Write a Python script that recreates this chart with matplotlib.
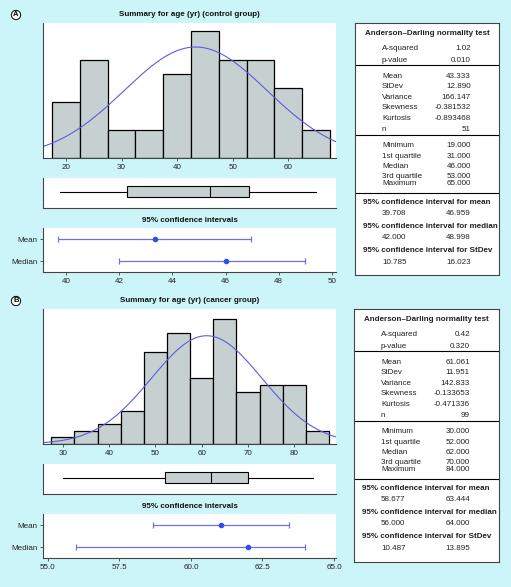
import numpy as np
import matplotlib.pyplot as plt

plt.rcParams['font.family'] = ['Liberation Sans', 'DejaVu Sans']
plt.rcParams['font.size'] = 5.8

# ---- data: control group (A) ----
bins_a = [20, 25, 30, 35, 40, 45, 50, 55, 60, 65]
counts_a = [4, 7, 2, 2, 6, 9, 7, 7, 5, 2]
mean_a, sd_a, n_a = 43.333, 12.890, 51
five_a = [19, 31, 46, 53, 65]          # min, q1, median, q3, max
ci_mean_a = [39.708, 46.959]
ci_median_a = [42.000, 48.998]
ad_a = [("A-squared", "1.02"), ("p-value", "0.010")]
desc_a = [("Mean", "43.333"), ("StDev", "12.890"), ("Variance", "166.147"),
          ("Skewness", "-0.381532"), ("Kurtosis", "-0.893468"), ("n", "51")]
quart_a = [("Minimum", "19.000"), ("1st quartile", "31.000"), ("Median", "46.000"),
           ("3rd quartile", "53.000"), ("Maximum", "65.000")]
ci_tab_a = [("mean", "39.708", "46.959"), ("median", "42.000", "48.998"),
            ("StDev", "10.785", "16.023")]

# ---- data: cancer group (B) ----
bins_b = [30, 35, 40, 45, 50, 55, 60, 65, 70, 75, 80, 85]
counts_b = [1, 2, 3, 5, 14, 17, 10, 19, 8, 9, 9, 2]
mean_b, sd_b, n_b = 61.061, 11.951, 99
five_b = [30, 52, 62, 70, 84]
ci_mean_b = [58.677, 63.444]
ci_median_b = [56.000, 64.000]
ad_b = [("A-squared", "0.42"), ("p-value", "0.320")]
desc_b = [("Mean", "61.061"), ("StDev", "11.951"), ("Variance", "142.833"),
          ("Skewness", "-0.133653"), ("Kurtosis", "-0.471336"), ("n", "99")]
quart_b = [("Minimum", "30.000"), ("1st quartile", "52.000"), ("Median", "62.000"),
           ("3rd quartile", "70.000"), ("Maximum", "84.000")]
ci_tab_b = [("mean", "58.677", "63.444"), ("median", "56.000", "64.000"),
            ("StDev", "10.487", "13.895")]

W, H = 511, 587
BG = '#CCF5FA'
GRAY = '#C7D0D0'
BLUE = '#5C5CE0'
CI_LINE = '#7070E4'
CI_DOT = '#2F4FE8'
SPINE = '#444444'


def px_axes(fig, x0, y0, x1, y1):
    return fig.add_axes([x0 / W, 1 - y1 / H, (x1 - x0) / W, (y1 - y0) / H])


def style(ax):
    ax.spines['top'].set_visible(False)
    ax.spines['right'].set_visible(False)
    for s in ('left', 'bottom'):
        ax.spines[s].set_color(SPINE)
        ax.spines[s].set_linewidth(0.8)
    ax.tick_params(length=2.2, width=0.6, color=SPINE, pad=2, labelcolor='#222222')


def panel(fig, letter, title, y0, centers, counts, mean, sd, n, xlim, xticks, ytop,
          five, ci_mean, ci_median, ci_xlim, ci_ticks, ci_fmt,
          ad, desc, quart, ci_tab, tbox):
    # letter + title
    fig.text(16 / W, 1 - (y0 - 8) / H, letter, ha='center', va='center', fontsize=5.5,
             fontweight='bold',
             bbox=dict(boxstyle='circle,pad=0.15', fc='white', ec='black', lw=0.7))
    fig.text(189.5 / W, 1 - (y0 - 8) / H, title, ha='center', va='center',
             fontweight='bold', color='#111111')

    # histogram with fitted normal curve
    ax = px_axes(fig, 43, y0, 336, y0 + 135)
    ax.bar(centers, counts, width=5, color=GRAY, edgecolor='black', linewidth=0.9)
    xs = np.linspace(xlim[0], xlim[1], 300)
    pdf = np.exp(-0.5 * ((xs - mean) / sd) ** 2) / (sd * np.sqrt(2 * np.pi))
    ax.plot(xs, n * 5 * pdf, color=BLUE, lw=0.8)
    ax.set_xlim(xlim)
    ax.set_ylim(0, ytop)
    ax.set_xticks(xticks)
    ax.set_yticks([])
    style(ax)

    # boxplot
    bx = px_axes(fig, 43, y0 + 155, 336, y0 + 185)
    stats = [dict(whislo=five[0], q1=five[1], med=five[2], q3=five[3], whishi=five[4], fliers=[])]
    bx.bxp(stats, positions=[0.54], widths=0.37, orientation='horizontal',
           patch_artist=True, showcaps=False,
           boxprops=dict(facecolor=GRAY, edgecolor='black', linewidth=0.8),
           medianprops=dict(color='black', linewidth=0.8),
           whiskerprops=dict(color='black', linewidth=0.8))
    bx.set_xlim(xlim)
    bx.set_ylim(0, 1)
    bx.set_xticks([])
    bx.set_yticks([])
    style(bx)

    # confidence intervals
    fig.text(189.5 / W, 1 - (y0 + 198) / H, '95% confidence intervals', ha='center',
             va='center', fontweight='bold', color='#111111')
    cx = px_axes(fig, 43, y0 + 205, 336, y0 + 249)
    pts = [mean, five[2]]
    los = [ci_mean[0], ci_median[0]]
    his = [ci_mean[1], ci_median[1]]
    for yv, p, lo, hi in zip([1, 0], pts, los, his):
        cx.errorbar([p], [yv], xerr=[[p - lo], [hi - p]], fmt='none', ecolor=CI_LINE,
                    elinewidth=0.9, capsize=2.5, capthick=0.9)
        cx.plot([p], [yv], 'o', ms=3, color=CI_DOT)
    cx.set_ylim(-0.5, 1.5)
    cx.set_yticks([1, 0])
    cx.set_yticklabels(['Mean', 'Median'])
    cx.set_xlim(ci_xlim)
    cx.set_xticks(ci_ticks)
    cx.set_xticklabels([ci_fmt.format(t) for t in ci_ticks])
    style(cx)

    # statistics table
    tx0, ty0, tx1, ty1 = tbox
    tw, th = tx1 - tx0, ty1 - ty0
    tax = px_axes(fig, tx0, ty0, tx1, ty1)
    tax.set_xlim(0, tw)
    tax.set_ylim(th, 0)
    tax.set_xticks([])
    tax.set_yticks([])
    for s in tax.spines.values():
        s.set_color(SPINE)
        s.set_linewidth(0.8)
    for yy in (42.3, 112.3, 170):
        tax.axhline(yy, color='black', lw=0.8)
    tc = '#222222'
    tax.text(tw / 2, 10.6, 'Anderson\u2013Darling normality test', ha='center', va='center',
             fontweight='bold', color=tc)
    rows = list(zip([25, 37.3], ad)) + list(zip([53.3, 63.8, 74.2, 84.6, 95.3, 106.3], desc)) \
        + list(zip([122.3, 133, 143.3, 153.5, 160.4], quart))
    for yy, (lab, val) in rows:
        tax.text(27, yy, lab, ha='left', va='center', color=tc)
        tax.text(116, yy, val, ha='right', va='center', color=tc)
    for yy, (name, lo, hi) in zip([179, 203.3, 228], ci_tab):
        tax.text(8, yy, '95% confidence interval for ' + name, ha='left', va='center',
                 fontweight='bold', color=tc)
        tax.text(27, yy + 11.6, lo, ha='left', va='center', color=tc)
        tax.text(116, yy + 11.6, hi, ha='right', va='center', color=tc)


fig = plt.figure(figsize=(W / 100, H / 100), dpi=100, facecolor=BG)

panel(fig, 'A', 'Summary for age (yr) (control group)', 23, bins_a, counts_a,
      mean_a, sd_a, n_a, (15.86, 68.6), [20, 30, 40, 50, 60], 9.6,
      five_a, ci_mean_a, ci_median_a, (39.14, 50.15), [40, 42, 44, 46, 48, 50], '{:.0f}',
      ad_a, desc_a, quart_a, ci_tab_a, (355, 23, 499, 275))

panel(fig, 'B', 'Summary for age (yr) (cancer group)', 309, bins_b, counts_b,
      mean_b, sd_b, n_b, (25.7, 89.0), [30, 40, 50, 60, 70, 80], 20.6,
      five_b, ci_mean_b, ci_median_b, (54.83, 65.07), [55.0, 57.5, 60.0, 62.5, 65.0], '{:.1f}',
      ad_b, desc_b, quart_b, ci_tab_b, (354, 309, 499, 562))

fig.savefig('out.png', dpi=100, facecolor=BG)
